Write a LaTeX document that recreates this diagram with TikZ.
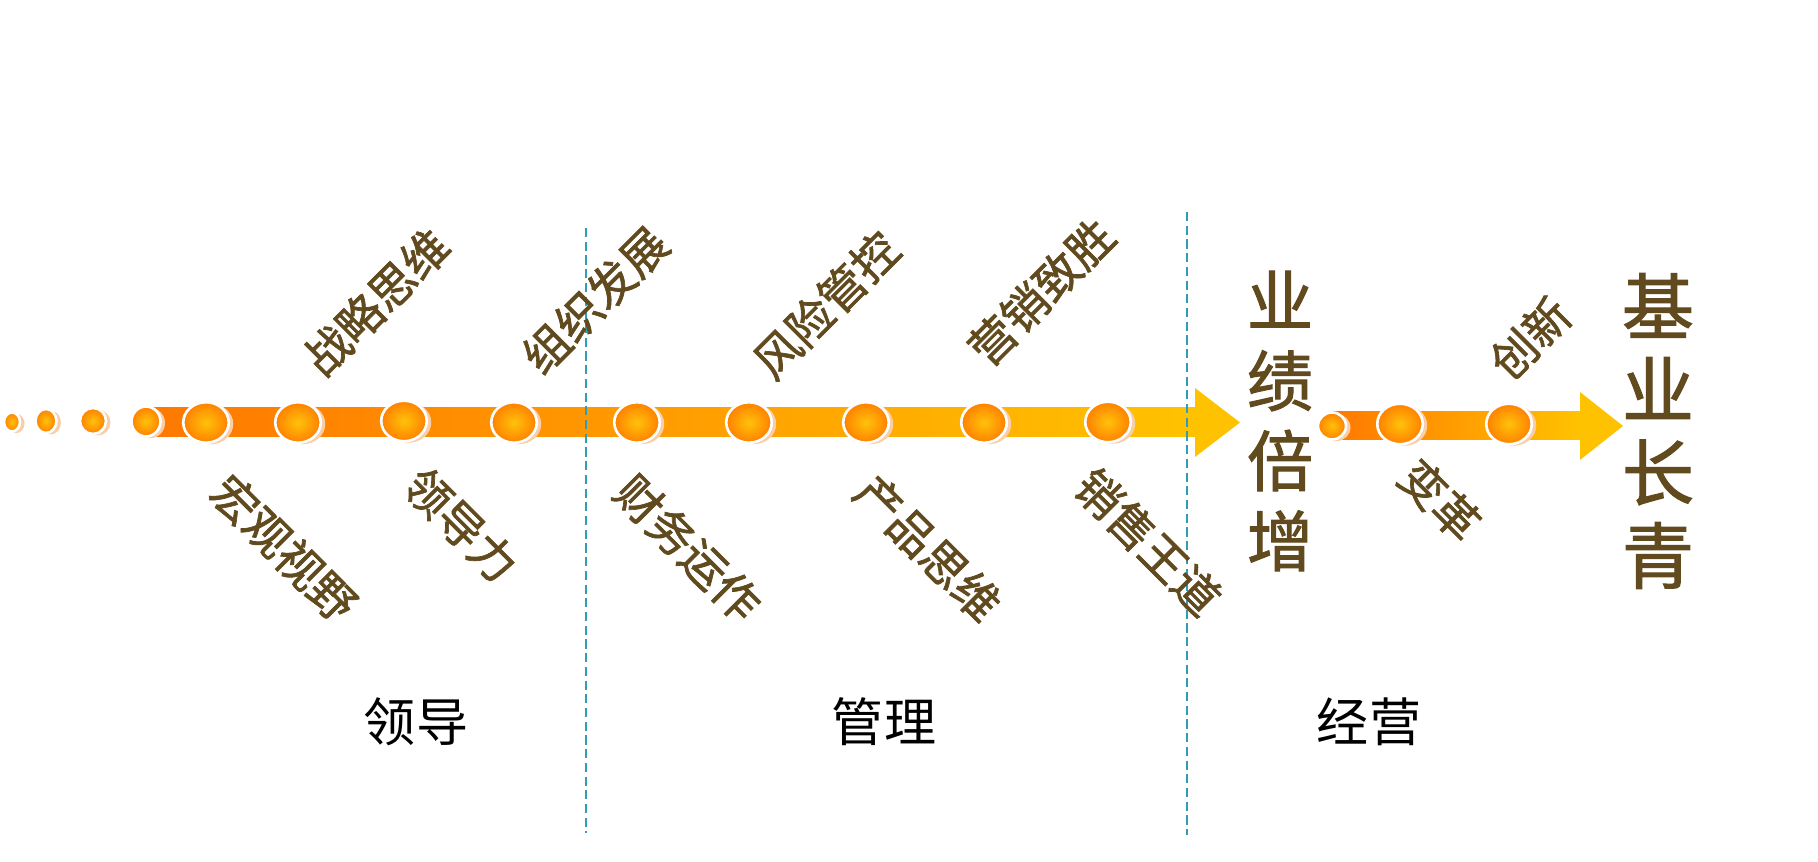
\documentclass[tikz,border=0pt]{standalone}
\usepackage{fontspec}
\setmainfont{Noto Sans CJK SC}
\newfontfamily\fed{Noto Sans CJK SC}[FakeBold=1.5]
\usepackage{tikz}
\usetikzlibrary{arrows,calc,positioning,shapes.geometric,shadows}
\definecolor{brun}{HTML}{604A1E}
\definecolor{mork}{HTML}{FF7800}
\definecolor{midt}{HTML}{FFA600}
\definecolor{gul}{HTML}{FFC200}
\definecolor{kerne}{HTML}{FFC20A}
\definecolor{rand}{HTML}{FF8000}
\definecolor{skygge}{HTML}{F9CDA6}
\definecolor{streg}{HTML}{2E9DB5}
\tikzset{
    kugle/.style={
           ellipse,
           draw=white, line width=0.75pt,
           minimum width=0.455cm,
           minimum height=0.405cm,
           inner sep=0pt,
           inner color=kerne, outer color=rand,
           drop shadow={shadow xshift=0.045cm, shadow yshift=-0.015cm, fill=skygge, opacity=1}},
    optekst/.style={
           text=brun,
           rotate=45,
           font=\fed\fontsize{13pt}{15pt}\selectfont},
    nedtekst/.style={
           text=brun,
           rotate=-45,
           font=\fed\fontsize{13pt}{15pt}\selectfont},
    fase/.style={
           text=black,
           font=\fontsize{14.8pt}{17pt}\selectfont},
    lodret/.style={
           text=brun,
           align=center,
           inner sep=0pt},
    skille/.style={
           draw=streg,
           line width=0.55pt,
           dash pattern=on 2.6pt off 1.3pt}
}

\begin{document}
\begin{tikzpicture}[x=0.01cm, y=-0.01cm]
          \useasboundingbox (0,0) rectangle (1818,862);
          \coordinate (start1) at (146,422.5);
          \coordinate (spids1) at (1240,422.5);
          \coordinate (start2) at (1332,426);
          \coordinate (spids2) at (1623,426);
          \shade[left color=mork, middle color=midt, right color=gul] ($(start1)+(0,-14.5)$) rectangle ($(spids1)+(-45,14.5)$);
          \fill[gul] (spids1) -- ++(-45,-34.5) -- ++(0,69) -- cycle;
          \shade[left color=mork, middle color=midt, right color=gul] ($(start2)+(0,-14)$) rectangle ($(spids2)+(-43,14)$);
          \fill[gul] (spids2) -- ++(-43,-34) -- ++(0,68) -- cycle;
          \coordinate (skilleA1) at (586,228);
          \coordinate (skilleA2) at (586,833);
          \coordinate (skilleB1) at (1187,212);
          \coordinate (skilleB2) at (1187,835);
          \draw[skille] (skilleA1) -- (skilleA2);
          \draw[skille] (skilleB1) -- (skilleB2);
          \node[kugle, minimum width=0.16cm, minimum height=0.19cm](prik1) at (12,422) {};
          \node[kugle, minimum width=0.21cm, minimum height=0.24cm](prik2) at (46,421) {};
          \node[kugle, minimum width=0.26cm, minimum height=0.26cm](prik3) at (93,421) {};
          \node[kugle, minimum width=0.29cm, minimum height=0.3cm](prik4) at (146,421.5) {};
          \node[kugle](phongguan) at (206,422.5) {};
          \node[kugle](pzhanlue) at (298,422.5) {};
          \node[kugle](plingdao) at (404,421) {};
          \node[kugle](pzuzhi) at (514,422.5) {};
          \node[kugle](pcaiwu) at (637,422.5) {};
          \node[kugle](pfengxian) at (749,422.5) {};
          \node[kugle](pchanpin) at (866,422.5) {};
          \node[kugle](pyingxiao) at (984,422.5) {};
          \node[kugle](pxiaoshou) at (1108,422) {};
          \node[kugle, minimum width=0.28cm, minimum height=0.27cm](prik5) at (1332,426) {};
          \node[kugle](pbiange) at (1400,424) {};
          \node[kugle](pchuangxin) at (1509,424) {};
          \node[nedtekst](hongguan) at (284,548) {宏观视野};
          \node[optekst](zhanlue) at (376,302) {战略思维};
          \node[nedtekst](lingdao) at (461,525) {领导力};
          \node[optekst](zuzhi) at (595,300) {组织发展};
          \node[nedtekst](caiwu) at (688,548) {财务运作};
          \node[optekst](fengxian) at (826,305) {风险管控};
          \node[nedtekst](chanpin) at (928,548) {产品思维};
          \node[optekst](yingxiao) at (1041,292) {营销致胜};
          \node[nedtekst](xiaoshou) at (1148,542) {销售王道};
          \node[nedtekst](biange) at (1440,500) {变革};
          \node[optekst](chuangxin) at (1530,338) {创新};
          \node[lodret, font=\fed\fontsize{18.8pt}{22.8pt}\selectfont](yeji) at (1280,421) {业\\绩\\倍\\增};
          \node[lodret, font=\fed\fontsize{20.5pt}{23.6pt}\selectfont](jiye) at (1658,431) {基\\业\\长\\青};
          \node[fase](lingdaofase) at (416,722) {领导};
          \node[fase](guanli) at (884,722) {管理};
          \node[fase](jingying) at (1369,722) {经营};
         \end{tikzpicture}
\end{document}
